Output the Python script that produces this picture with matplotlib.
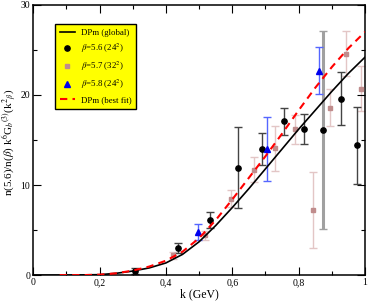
import numpy as np
import matplotlib
matplotlib.use('Agg')
import matplotlib.pyplot as plt
from matplotlib.ticker import MultipleLocator, FuncFormatter

plt.rcParams['font.family'] = ['Liberation Serif', 'DejaVu Serif']
plt.rcParams['mathtext.fontset'] = 'stix'

# ----------------------
# data
# ----------------------
# DPm (global) curve
k_global = [0.0, 0.1, 0.2, 0.25, 0.3, 0.35, 0.4, 0.45, 0.5, 0.55, 0.6, 0.65,
            0.7, 0.75, 0.8, 0.85, 0.9, 0.95, 1.0]
g_global = [0.0, 0.0, 0.05, 0.2, 0.45, 0.8, 1.35, 2.3, 3.7, 5.5, 7.5, 9.6,
            11.8, 14.0, 16.2, 18.3, 20.4, 22.4, 24.2]

# DPm (best fit) curve
k_fit = [0.08, 0.15, 0.2, 0.25, 0.3, 0.35, 0.4, 0.45, 0.5, 0.55, 0.6, 0.65,
         0.7, 0.75, 0.8, 0.85, 0.9, 0.95, 1.0]
g_fit = [0.0, 0.0, 0.05, 0.2, 0.5, 0.95, 1.6, 2.6, 4.1, 6.1, 8.4, 10.8,
         13.2, 15.7, 18.3, 20.8, 23.1, 25.2, 27.0]

# beta = 5.6 (24^2)
k_56 = [0.307, 0.437, 0.533, 0.617, 0.69, 0.756, 0.816, 0.873, 0.928, 0.976]
g_56 = [0.45, 3.0, 6.1, 11.9, 14.0, 17.1, 16.2, 16.1, 19.6, 14.4]
e_56 = [0.3, 0.6, 0.9, 4.5, 1.8, 1.5, 1.7, 11.0, 2.9, 4.3]

# beta = 5.7 (32^2)
k_57 = [0.42, 0.518, 0.596, 0.666, 0.73, 0.79, 0.843, 0.895, 0.943, 0.988]
g_57 = [2.2, 4.4, 8.5, 11.7, 14.1, 16.2, 7.2, 18.6, 24.6, 20.7]
e_57 = [0.4, 0.5, 0.9, 1.4, 2.5, 1.6, 4.2, 2.1, 2.5, 2.5]

# beta = 5.8 (24^2)
k_58 = [0.497, 0.705, 0.862]
g_58 = [4.8, 14.0, 22.7]
e_58 = [0.9, 3.6, 2.6]

# ----------------------
# plot
# ----------------------
fig = plt.figure(figsize=(3.68, 3.05), dpi=100)
ax = fig.add_axes([0.09, 0.098, 0.902, 0.886])

ax.plot(k_global, g_global, color='black', lw=1.2, label='DPm (global)', zorder=4)

for i in range(len(k_56)):
    # the wide bar at k~0.87 is drawn lighter and thicker in the original
    ecol = '#a0a0a0' if e_56[i] > 8 else '#444444'
    lw = 2.2 if e_56[i] > 8 else 1
    ax.errorbar(k_56[i], g_56[i], yerr=e_56[i], fmt='none', ecolor=ecol,
                capsize=3, elinewidth=lw, capthick=1, zorder=2)
ax.plot(k_56, g_56, 'o', color='black', ms=3.8, ls='none',
        label=r'$\beta$=5.6 (24$^2$)', zorder=5)

ax.errorbar(k_57, g_57, yerr=e_57, fmt='none', ecolor='#e3c6c6',
            capsize=3, elinewidth=1, capthick=1, zorder=1)
ax.plot(k_57, g_57, 's', color='#c08c8c', ms=3.2, ls='none',
        label=r'$\beta$=5.7 (32$^2$)', zorder=3)

ax.errorbar(k_58, g_58, yerr=e_58, fmt='none', ecolor='#5566ff',
            capsize=3, elinewidth=1, capthick=1, zorder=2)
ax.plot(k_58, g_58, '^', color='#0000ee', ms=4, ls='none',
        label=r'$\beta$=5.8 (24$^2$)', zorder=5)

ax.plot(k_fit, g_fit, color='red', lw=1.5, ls=(0, (3.5, 2.5)),
        label='DPm (best fit)', zorder=6)

ax.set_xlim(0, 1)
ax.set_ylim(0, 30)
ax.xaxis.set_major_locator(MultipleLocator(0.2))
ax.xaxis.set_minor_locator(MultipleLocator(0.1))
ax.yaxis.set_major_locator(MultipleLocator(10))
ax.yaxis.set_minor_locator(MultipleLocator(5))


def fmt_k(v, pos):
    if abs(v) < 1e-9:
        return '0'
    if abs(v - 1) < 1e-9:
        return '1'
    return f'{v:.1f}'.replace('.', ',')


ax.xaxis.set_major_formatter(FuncFormatter(fmt_k))
ax.tick_params(which='both', direction='in', top=True, right=True, labelsize=7)
ax.tick_params(which='major', length=6, width=0.8, pad=2)
ax.tick_params(which='minor', length=3, width=0.8)
for s in ax.spines.values():
    s.set_linewidth(1.1)

ax.set_xlabel('k (GeV)', fontsize=8.5, labelpad=1)
ax.set_ylabel(r'n(5.6)/n($\beta$) k$^6$G$_b$$^{(3)}$(k$^2$$_\beta$)', fontsize=8)
ax.yaxis.set_label_coords(-0.043, 0.49)

leg = ax.legend(loc='upper left', bbox_to_anchor=(0.066, 0.93), borderaxespad=0,
                fontsize=6.3, frameon=True, fancybox=False, facecolor='yellow',
                edgecolor='black', framealpha=1, handlelength=1.7,
                labelspacing=0.55, borderpad=0.55, handletextpad=0.7)
leg.get_frame().set_linewidth(1.0)

fig.savefig('out.png', dpi=100)
